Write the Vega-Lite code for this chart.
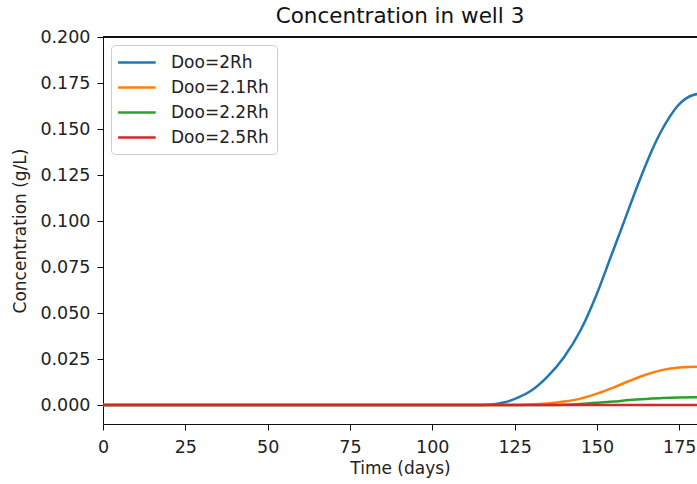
{
  "$schema": "https://vega.github.io/schema/vega-lite/v6.json",
  "width": 594,
  "height": 387,
  "autosize": {"type": "none"},
  "padding": {"left": 103, "top": 37, "right": 0, "bottom": 60},
  "background": "white",
  "title": {"text": "Concentration in well 3", "fontSize": 21.5, "fontWeight": "normal", "font": "DejaVu Sans", "color": "#111", "anchor": "middle", "offset": 1},
  "config": {
    "view": {"stroke": null},
    "font": "DejaVu Sans",
    "axis": {"grid": false, "domainColor": "#111", "tickColor": "#111", "labelColor": "#222", "titleColor": "#222", "labelFontSize": 17.5, "titleFontSize": 17, "titleFontWeight": "normal", "tickSize": 6, "labelFont": "DejaVu Sans", "titleFont": "DejaVu Sans"}
  },
  "data": {"values": [
    {"t": 0, "c": 0, "s": "Doo=2Rh"},
    {"t": 112, "c": 0, "s": "Doo=2Rh"},
    {"t": 118, "c": 0.0003, "s": "Doo=2Rh"},
    {"t": 122, "c": 0.0015, "s": "Doo=2Rh"},
    {"t": 126, "c": 0.004, "s": "Doo=2Rh"},
    {"t": 130, "c": 0.0078, "s": "Doo=2Rh"},
    {"t": 135, "c": 0.0155, "s": "Doo=2Rh"},
    {"t": 140, "c": 0.026, "s": "Doo=2Rh"},
    {"t": 145, "c": 0.0405, "s": "Doo=2Rh"},
    {"t": 150, "c": 0.0605, "s": "Doo=2Rh"},
    {"t": 154, "c": 0.0795, "s": "Doo=2Rh"},
    {"t": 158, "c": 0.0985, "s": "Doo=2Rh"},
    {"t": 163, "c": 0.1223, "s": "Doo=2Rh"},
    {"t": 166, "c": 0.1355, "s": "Doo=2Rh"},
    {"t": 169, "c": 0.147, "s": "Doo=2Rh"},
    {"t": 172, "c": 0.1563, "s": "Doo=2Rh"},
    {"t": 174.5, "c": 0.1625, "s": "Doo=2Rh"},
    {"t": 177, "c": 0.1665, "s": "Doo=2Rh"},
    {"t": 179.5, "c": 0.1686, "s": "Doo=2Rh"},
    {"t": 182, "c": 0.1692, "s": "Doo=2Rh"},
    {"t": 185, "c": 0.169, "s": "Doo=2Rh"},
    {"t": 0, "c": 0, "s": "Doo=2.1Rh"},
    {"t": 125, "c": 0, "s": "Doo=2.1Rh"},
    {"t": 130, "c": 0.0003, "s": "Doo=2.1Rh"},
    {"t": 135, "c": 0.0009, "s": "Doo=2.1Rh"},
    {"t": 140, "c": 0.0019, "s": "Doo=2.1Rh"},
    {"t": 145, "c": 0.0035, "s": "Doo=2.1Rh"},
    {"t": 150, "c": 0.0062, "s": "Doo=2.1Rh"},
    {"t": 155, "c": 0.0095, "s": "Doo=2.1Rh"},
    {"t": 160, "c": 0.0132, "s": "Doo=2.1Rh"},
    {"t": 165, "c": 0.0166, "s": "Doo=2.1Rh"},
    {"t": 170, "c": 0.0191, "s": "Doo=2.1Rh"},
    {"t": 175, "c": 0.0204, "s": "Doo=2.1Rh"},
    {"t": 180, "c": 0.0208, "s": "Doo=2.1Rh"},
    {"t": 185, "c": 0.0206, "s": "Doo=2.1Rh"},
    {"t": 0, "c": 0, "s": "Doo=2.2Rh"},
    {"t": 135, "c": 0, "s": "Doo=2.2Rh"},
    {"t": 140, "c": 0.0002, "s": "Doo=2.2Rh"},
    {"t": 145, "c": 0.0006, "s": "Doo=2.2Rh"},
    {"t": 150, "c": 0.0012, "s": "Doo=2.2Rh"},
    {"t": 155, "c": 0.0019, "s": "Doo=2.2Rh"},
    {"t": 160, "c": 0.0027, "s": "Doo=2.2Rh"},
    {"t": 165, "c": 0.0033, "s": "Doo=2.2Rh"},
    {"t": 170, "c": 0.0038, "s": "Doo=2.2Rh"},
    {"t": 175, "c": 0.0041, "s": "Doo=2.2Rh"},
    {"t": 180, "c": 0.0042, "s": "Doo=2.2Rh"},
    {"t": 185, "c": 0.0042, "s": "Doo=2.2Rh"},
    {"t": 0, "c": 0, "s": "Doo=2.5Rh"},
    {"t": 100, "c": 0, "s": "Doo=2.5Rh"},
    {"t": 185, "c": 0, "s": "Doo=2.5Rh"}
  ]},
  "layer": [
    {
      "mark": {"type": "line", "strokeWidth": 2.5, "interpolate": "monotone", "clip": true},
      "encoding": {
        "x": {"field": "t", "type": "quantitative", "scale": {"domain": [0, 180.4], "nice": false, "zero": false},
              "axis": {"title": "Time (days)", "values": [0, 25, 50, 75, 100, 125, 150, 175], "labelFlush": false, "labelPadding": 8, "titlePadding": 5}},
        "y": {"field": "c", "type": "quantitative", "scale": {"domain": [-0.0103, 0.2], "nice": false, "zero": false},
              "axis": {"title": "Concentration (g/L)", "values": [0, 0.025, 0.05, 0.075, 0.1, 0.125, 0.15, 0.175, 0.2], "format": ".3f", "labelFlush": false, "labelPadding": 7, "titlePadding": 10}},
        "color": {"field": "s", "type": "nominal",
                  "scale": {"domain": ["Doo=2Rh", "Doo=2.1Rh", "Doo=2.2Rh", "Doo=2.5Rh"], "range": ["#1f77b4", "#ff7f0e", "#2ca02c", "#d62728"]},
                  "legend": {"title": null, "orient": "top-left", "offset": 8, "padding": 8, "symbolType": "M-1.3,0H3.4", "symbolSize": 256, "symbolStrokeWidth": 2.5, "labelFontSize": 17, "labelColor": "#222", "rowPadding": 7, "labelOffset": 33, "strokeColor": "#cccccc", "cornerRadius": 4, "fillColor": "white"}}
      }
    },
    {
      "mark": {"type": "rule", "color": "#111", "strokeWidth": 1},
      "encoding": {"y": {"datum": 0.2}}
    }
  ]
}
